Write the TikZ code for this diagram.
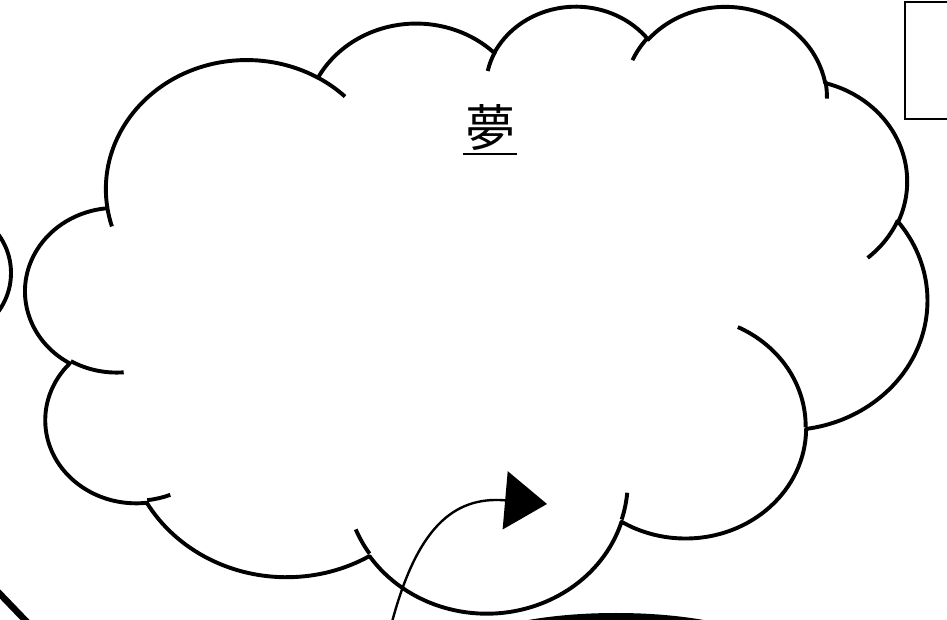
\documentclass[tikz,border=0pt]{standalone}
\usepackage{fontspec}
\usepackage{tikz}
\usetikzlibrary{arrows.meta}
\newfontfamily\jpfont{Noto Sans CJK JP}

\begin{document}
\begin{tikzpicture}[
    x=1pt, y=1pt,
    cloudline/.style={line width=3.9pt, line join=round},
    thickline/.style={line width=3.9pt},
    boxline/.style={draw, line width=2pt},
    dreamtext/.style={font=\jpfont\fontsize{50}{50}\selectfont, inner xsep=2pt, inner ysep=3pt},
    pointer/.style={-{Triangle[length=42pt, width=58pt]}, line width=2.4pt}
  ]
    \fill[white] (0,0) rectangle (947,620);
    \useasboundingbox (0,0) rectangle (947,620);
    \clip (0,0) rectangle (947,620);

    \draw[thickline] (-54,347) circle[radius=65];
    \draw[line width=6.5pt] (-10,36.4) -- (35,-10.4);
    \fill (616,-36) ellipse[x radius=160, y radius=43];

    % cloud, in 1/1000 of the shape box
    \begin{scope}[shift={(25.8,615.3)}, x=20.863pt, y=-14.044pt]
      \draw[cloudline, fill=white] (3.9,14.37)
        \foreach \s/\e/\rx/\ry in {172.25/300.36/6.753/9.19, -152.02/-45.44/5.333/7.267,
          -153.48/-37.33/4.365/5.945, -139.69/-10.21/4.857/6.595, -74.77/23.21/5.333/7.273,
          -37.53/81.86/6.775/9.22, 0.46/121.98/5.785/7.867, 16.84/146.30/6.752/9.215,
          58.99/150.19/7.72/10.543, 83.31/223.13/4.36/5.918, 120.36/264.11/4.345/5.945}
        { arc[start angle=\s, end angle=\e, x radius=\rx, y radius=\ry] } -- cycle;
      \foreach \x/\y/\s/\e/\rx/\ry in {4.693/26.177/85.55/120.36/4.345/5.945,
          6.928/34.899/68.23/83.31/4.36/5.918, 16.478/39.09/146.30/158.47/6.752/9.215,
          28.827/34.751/4.74/16.84/6.752/9.215, 34.129/22.954/-64.03/0.46/5.785/7.867,
          41.798/15.354/23.21/49.63/5.333/7.273, 38.324/5.426/-10.21/0.82/4.857/6.595,
          29.078/3.952/-156.29/-139.69/4.857/6.595, 22.141/4.72/-167.73/-153.48/4.365/5.945,
          14.0/5.192/-59.64/-45.74/6.753/9.19, 4.127/15.789/163.19/172.25/6.753/9.19}
        \draw[cloudline] (\x,\y) arc[start angle=\s, end angle=\e, x radius=\rx, y radius=\ry];
    \end{scope}

    \node[dreamtext] (dream) at (490,492) {夢};
    \draw[line width=2pt] (dream.south west) -- (dream.south east);

    \draw[boxline] (905,618) rectangle (975,501);

    \coordinate (arrowfoot) at (392,-2);
    \coordinate (arrowtip) at (547,116);
    \draw[pointer] (arrowfoot) to[out=75, in=175, looseness=1.25] (arrowtip);
\end{tikzpicture}
\end{document}
